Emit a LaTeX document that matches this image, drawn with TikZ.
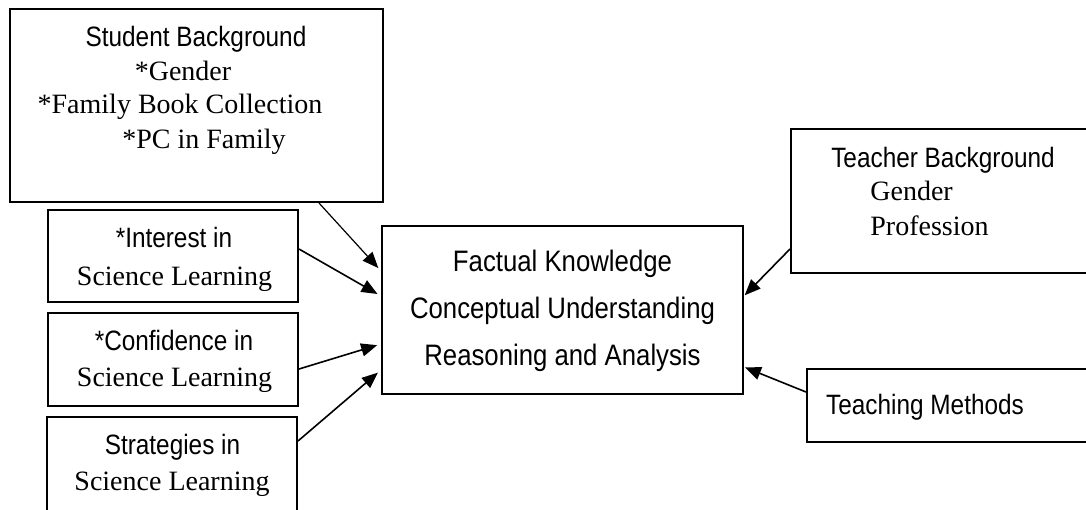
\documentclass[tikz,border=0pt]{standalone}
\usepackage{fontspec}
\usepackage{tikz}
\usetikzlibrary{positioning,arrows.meta,calc}
\newfontfamily\arialn[FakeStretch=0.87]{Liberation Sans}
\newfontfamily\tnr{Liberation Serif}

\begin{document}
\begin{tikzpicture}[
  x=0.5pt, y=-0.5pt,
  box/.style={draw, line width=1pt, inner sep=0pt},
  sf/.style={font=\arialn\fontsize{14}{17}\selectfont, inner sep=0pt, anchor=base},
  rm/.style={font=\tnr\fontsize{14}{17}\selectfont, inner sep=0pt, anchor=base},
  arr/.style={-{Triangle[length=8pt,width=6.5pt]}, line width=0.8pt, shorten >=2pt}
]
  \useasboundingbox (0,0) rectangle (1086,509);
  \clip (0,0) rectangle (1086,509);

  % boxes
  \node[box, minimum width=186.5pt, minimum height=96.5pt] (stud)  at (196.5,105.5) {};
  \node[box, minimum width=125pt,   minimum height=46pt]   (inter) at (173,256) {};
  \node[box, minimum width=125pt,   minimum height=46.5pt] (conf)  at (173,359.5) {};
  \node[box, minimum width=125pt,   minimum height=51.5pt] (strat) at (172,468.5) {};
  \node[box, minimum width=180.5pt, minimum height=84pt]   (ach)   at (562.5,310) {};
  \node[box, minimum width=154.5pt, minimum height=72pt]   (teach) at (945.5,201) {};
  \node[box, minimum width=146.5pt, minimum height=36.5pt] (meth)  at (953.5,405.5) {};

  % texts
  \node[sf] (stud-t) at (196,46)  {Student Background};
  \node[rm] (stud-g) at (183,80)  {*Gender};
  \node[rm] (stud-b) at (180,113) {*Family Book Collection};
  \node[rm] (stud-p) at (204,148) {*PC in Family};

  \node[sf] (inter-t) at (174,247)   {*Interest in};
  \node[rm] (inter-s) at (174.5,285) {Science Learning};
  \node[sf] (conf-t)  at (174,350)   {*Confidence in};
  \node[rm] (conf-s)  at (174.5,386) {Science Learning};
  \node[sf] (strat-t) at (172.5,454) {Strategies in};
  \node[rm] (strat-s) at (172,490)   {Science Learning};

  \node[sf, font=\arialn\fontsize{14.8}{17}\selectfont] (ach-f) at (562.5,271) {Factual Knowledge};
  \node[sf, font=\arialn\fontsize{14.8}{17}\selectfont] (ach-c) at (562.5,318) {Conceptual Understanding};
  \node[sf, font=\arialn\fontsize{14.8}{17}\selectfont] (ach-r) at (562.5,365) {Reasoning and Analysis};

  \node[sf] (teach-t) at (943,167) {Teacher Background};
  \node[rm, anchor=base west] (teach-g) at (870,200) {Gender};
  \node[rm, anchor=base west] (teach-p) at (870,235) {Profession};
  \node[sf] (meth-t) at (925,414) {Teaching Methods};

  % arrows
  \draw[arr, line width=0.6pt] ($(stud.south west)+(310,0)$) -- ($(ach.north west)+(0,46)$);
  \draw[arr] ($(inter.north east)+(0,40)$) -- ($(ach.north west)+(0,71)$);
  \draw[arr] ($(conf.north east)+(0,57)$)  -- ($(ach.north west)+(0,119)$);
  \draw[arr] ($(strat.north east)+(0,25)$) -- ($(ach.north west)+(0,145)$);
  \draw[arr, shorten >=0.5pt] ($(teach.north west)+(0,121)$) -- ($(ach.north east)+(0,71)$);
  \draw[arr, shorten >=0.5pt] ($(meth.north west)+(0,24)$)   -- ($(ach.north east)+(0,142)$);
\end{tikzpicture}
\end{document}
